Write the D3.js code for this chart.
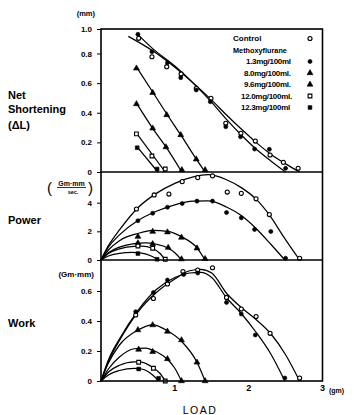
<!DOCTYPE html>
<html>
<head>
<meta charset="utf-8">
<script src="https://cdn.jsdelivr.net/npm/d3@7"></script>
<style>
  body { margin: 0; background: #fff; }
  svg { display: block; font-family: "Liberation Sans", Arial, sans-serif; font-weight: bold; }
</style>
</head>
<body>
<div id="chart"></div>
<script>
// series: control + methoxyflurane doses
const seriesNames = ["Control", "1.3mg/100ml", "8.0mg/100ml.", "9.6mg/100ml.", "12.0mg/100ml.", "12.3mg/100ml"];
const seriesSymbols = ["openCircle", "circle", "triangle", "triangle", "openSquare", "square"];

// Net shortening (mm) vs load (gm) - measured points
const shortPoints = [
  [[0.51,0.924],[0.69,0.778],[0.89,0.711],[1.085,0.662],[1.29,0.565],[1.49,0.498],[1.69,0.329],[1.895,0.261],[2.09,0.209],[2.29,0.115],[2.47,0.065],[2.67,0.025]],
  [[0.50,0.957],[0.69,0.815],[0.90,0.738],[1.08,0.637],[1.29,0.554],[1.48,0.475],[1.69,0.306],[1.89,0.238],[2.08,0.155],[2.28,0.153],[2.50,0.025]],
  [[0.48,0.70],[0.70,0.535],[0.89,0.385],[1.08,0.25],[1.29,0.086],[1.41,0.014]],
  [[0.48,0.459],[0.70,0.295],[0.88,0.168],[1.095,0.014]],
  [[0.48,0.257],[0.69,0.108],[0.87,0.02]],
  [[0.49,0.164],[0.76,0.02]]
];
// fitted lines
const shortFits = [
  [[0.37,0.94],[0.7,0.822],[1.0,0.707],[1.3,0.578],[1.5,0.485],[1.7,0.385],[1.9,0.29],[2.1,0.2],[2.3,0.12],[2.5,0.055],[2.69,0]],
  [[0.49,0.96],[0.7,0.84],[1.0,0.715],[1.3,0.575],[1.5,0.47],[1.7,0.355],[1.9,0.25],[2.1,0.155],[2.3,0.075],[2.5,0]],
  [[0.48,0.71],[0.7,0.54],[0.9,0.385],[1.1,0.235],[1.3,0.08],[1.41,0]],
  [[0.48,0.465],[0.7,0.295],[0.9,0.155],[1.095,0]],
  [[0.48,0.262],[0.87,0]],
  [[0.49,0.17],[0.77,0]]
];

// Power (Gm·mm/sec) vs load
const powerPoints = [
  [[0.48,3.56],[0.72,4.54],[0.92,4.6],[1.10,5.47],[1.31,5.75],[1.51,5.87],[1.71,4.74],[1.90,4.65],[2.10,4.27],[2.28,3.17],[2.69,0.12]],
  [[0.50,2.74],[0.70,3.26],[0.90,3.68],[1.10,3.94],[1.30,4.11],[1.51,4.11],[1.70,3.31],[1.90,2.94],[2.08,2.13],[2.30,1.99],[2.50,0.12]],
  [[0.50,1.63],[0.70,1.98],[0.90,1.94],[1.09,1.57],[1.30,0.82],[1.41,0.08]],
  [[0.50,1.18],[0.70,1.12],[0.91,0.86],[1.09,0.06]],
  [[0.50,0.98],[0.70,0.82],[0.87,0.05]],
  [[0.50,0.45],[0.76,0.05]]
];
const powerFits = [
  [[0,0],[0.1,1.0],[0.25,2.1],[0.5,3.65],[0.75,4.65],[1.0,5.35],[1.25,5.8],[1.45,5.95],[1.7,5.6],[1.9,5.05],[2.1,4.25],[2.28,3.15],[2.47,1.65],[2.69,0]],
  [[0,0],[0.1,0.9],[0.25,1.75],[0.5,2.75],[0.75,3.4],[1.0,3.85],[1.25,4.1],[1.45,4.12],[1.7,3.7],[1.9,3.1],[2.1,2.2],[2.3,1.1],[2.49,0]],
  [[0,0],[0.1,0.7],[0.25,1.35],[0.5,1.85],[0.7,2.06],[0.9,2.0],[1.1,1.6],[1.3,0.85],[1.41,0]],
  [[0,0],[0.1,0.5],[0.25,0.9],[0.45,1.15],[0.6,1.2],[0.75,1.1],[0.9,0.85],[1.0,0.5],[1.09,0]],
  [[0,0],[0.1,0.45],[0.25,0.78],[0.45,0.95],[0.55,0.96],[0.7,0.8],[0.8,0.45],[0.87,0]],
  [[0,0],[0.1,0.28],[0.25,0.46],[0.42,0.53],[0.55,0.48],[0.68,0.28],[0.78,0]]
];

// Work (Gm·mm) vs load
const workPoints = [
  [[0.47,0.44],[0.71,0.55],[0.90,0.647],[1.11,0.73],[1.31,0.74],[1.51,0.755],[1.70,0.557],[1.90,0.48],[2.10,0.43],[2.29,0.318],[2.69,0.02]],
  [[0.47,0.462],[0.71,0.59],[0.90,0.673],[1.12,0.71],[1.31,0.72],[1.70,0.524],[1.90,0.447],[2.09,0.307],[2.49,0.02]],
  [[0.50,0.34],[0.70,0.373],[0.90,0.33],[1.09,0.273],[1.30,0.124],[1.41,0.0]],
  [[0.51,0.21],[0.70,0.195],[0.90,0.147],[1.09,0.0]],
  [[0.51,0.125],[0.71,0.085],[0.87,0.0]],
  [[0.51,0.08],[0.78,0.018]]
];
const workFits = [
  [[0,0],[0.1,0.13],[0.25,0.27],[0.5,0.46],[0.75,0.59],[1.0,0.68],[1.2,0.735],[1.35,0.745],[1.5,0.72],[1.7,0.585],[1.9,0.49],[2.1,0.41],[2.3,0.315],[2.5,0.175],[2.69,0]],
  [[0,0],[0.1,0.14],[0.25,0.28],[0.5,0.47],[0.75,0.61],[1.0,0.69],[1.2,0.72],[1.35,0.725],[1.5,0.69],[1.7,0.555],[1.9,0.45],[2.1,0.325],[2.3,0.18],[2.49,0]],
  [[0,0],[0.1,0.12],[0.25,0.24],[0.5,0.34],[0.7,0.375],[0.9,0.335],[1.1,0.26],[1.3,0.125],[1.41,0]],
  [[0,0],[0.1,0.08],[0.25,0.16],[0.45,0.215],[0.6,0.22],[0.75,0.195],[0.9,0.145],[1.0,0.085],[1.09,0]],
  [[0,0],[0.1,0.06],[0.25,0.105],[0.45,0.128],[0.55,0.126],[0.7,0.09],[0.8,0.05],[0.87,0]],
  [[0,0],[0.1,0.04],[0.25,0.07],[0.45,0.085],[0.55,0.08],[0.7,0.04],[0.78,0]]
];

const xTicks = [1, 2, 3];
const shortTicks = [0, 0.2, 0.4, 0.6, 0.8, 1.0];
const powerTicks = [0, 2, 4];
const workTicks = [0, 0.2, 0.4, 0.6];

const W = 354, H = 415;
const svg = d3.select("#chart").append("svg")
  .attr("width", W)
  .attr("height", H);

const x = d3.scaleLinear().domain([0, 3]).range([101, 322.5]);
const yShort = d3.scaleLinear().domain([0, 0.8, 1.0]).range([172, 53.5, 29]);
const yPower = d3.scaleLinear().domain([0, 6.14]).range([260, 172]);
const yWork = d3.scaleLinear().domain([0, 0.8]).range([381, 261]);

const panels = [
  { y: yShort, pts: shortPoints, fits: shortFits, ticks: shortTicks, fmt: d => d === 0 ? "0" : d3.format(".1f")(d) },
  { y: yPower, pts: powerPoints, fits: powerFits, ticks: powerTicks, fmt: d3.format("d") },
  { y: yWork, pts: workPoints, fits: workFits, ticks: workTicks, fmt: d => d === 0 ? "0" : d3.format(".1f")(d) }
];

function drawSymbol(g, type, cx, cy) {
  const filled = !type.startsWith("open");
  const shape = type.includes("ircle") ? d3.symbolCircle : type.includes("quare") ? d3.symbolSquare : d3.symbolTriangle;
  const size = shape === d3.symbolTriangle ? 15 : shape === d3.symbolSquare ? 14 : 13;
  g.append("path")
    .attr("d", d3.symbol().type(shape).size(size)())
    .attr("transform", `translate(${cx},${cy})`)
    .attr("fill", filled ? "#000" : "#fff")
    .attr("stroke", "#000")
    .attr("stroke-width", filled ? 0.6 : 1.1);
}

panels.forEach(p => {
  // y axis ticks and labels
  const ax = svg.append("g")
    .attr("transform", `translate(${x(0)},0)`)
    .call(d3.axisLeft(p.y).tickValues(p.ticks).tickFormat(p.fmt).tickSize(4).tickPadding(5));
  ax.select(".domain").remove();
  ax.selectAll("line").attr("stroke", "#000").attr("stroke-width", 1);
  ax.selectAll("text").attr("font-size", 8).attr("font-weight", "bold").attr("fill", "#000")
    .attr("font-family", "'Liberation Sans', Arial, sans-serif");

  const line = d3.line()
    .x(d => x(d[0]))
    .y(d => p.y(d[1]))
    .curve(d3.curveMonotoneX);

  svg.append("g")
    .selectAll("path")
    .data(p.fits)
    .join("path")
    .attr("d", line)
    .attr("fill", "none")
    .attr("stroke", "#000")
    .attr("stroke-width", 1.25);

  const mg = svg.append("g");
  p.pts.forEach((series, i) => {
    series.forEach(d => drawSymbol(mg, seriesSymbols[i], x(d[0]), p.y(d[1])));
  });
});

// panel frame
svg.append("rect")
  .attr("x", x(0))
  .attr("y", 29)
  .attr("width", x(3) - x(0))
  .attr("height", 381 - 29)
  .attr("fill", "none")
  .attr("stroke", "#000")
  .attr("stroke-width", 1.6);
[172, 260].forEach(yy => {
  svg.append("line")
    .attr("x1", x(0)).attr("x2", x(3))
    .attr("y1", yy).attr("y2", yy)
    .attr("stroke", "#000")
    .attr("stroke-width", 1.6);
});

// x axis labels
svg.append("g")
  .selectAll("text")
  .data(xTicks)
  .join("text")
  .attr("x", d => x(d))
  .attr("y", 391)
  .attr("text-anchor", "middle")
  .attr("font-size", 9)
  .text(d => d);
svg.append("text").attr("x", 329).attr("y", 393).attr("font-size", 7).text("(gm)");
svg.append("text")
  .attr("x", 200)
  .attr("y", 414)
  .attr("text-anchor", "middle")
  .attr("font-size", 10.5)
  .attr("font-weight", "normal")
  .attr("letter-spacing", 1.5)
  .text("LOAD");

// unit labels
svg.append("text").attr("x", 95).attr("y", 16).attr("text-anchor", "end").attr("font-size", 7.5).text("(mm)");
svg.append("text").attr("x", 47).attr("y", 193).attr("font-size", 15).attr("font-weight", "normal").text("(");
svg.append("text").attr("x", 88).attr("y", 193).attr("font-size", 15).attr("font-weight", "normal").text(")");
svg.append("text").attr("x", 71.5).attr("y", 185.5).attr("text-anchor", "middle").attr("font-size", 7).text("Gm·mm");
svg.append("line").attr("x1", 57).attr("x2", 86).attr("y1", 187.5).attr("y2", 187.5).attr("stroke", "#000").attr("stroke-width", 0.8);
svg.append("text").attr("x", 73).attr("y", 194).attr("text-anchor", "middle").attr("font-size", 5.5).text("sec.");
svg.append("text").attr("x", 94).attr("y", 277).attr("text-anchor", "end").attr("font-size", 8).text("(Gm·mm)");

// row titles
const titles = [["Net", 99], ["Shortening", 113], ["(ΔL)", 129], ["Power", 224], ["Work", 327]];
svg.append("g")
  .selectAll("text")
  .data(titles)
  .join("text")
  .attr("x", 8)
  .attr("y", d => d[1])
  .attr("font-size", 11)
  .text(d => d[0]);

// legend
const lg = svg.append("g");
lg.append("text").attr("x", 233).attr("y", 41).attr("font-size", 8).text("Control");
lg.append("text").attr("x", 233).attr("y", 52.5).attr("font-size", 7.3).text("Methoxyflurane");
drawSymbol(lg, seriesSymbols[0], 310, 38.5);
const doseX = [246, 244, 244, 241, 241];
seriesNames.slice(1).forEach((name, i) => {
  const cy = 61.5 + i * 11.5;
  lg.append("text").attr("x", doseX[i]).attr("y", cy + 2.8).attr("font-size", 8).attr("letter-spacing", -0.3).text(name);
  drawSymbol(lg, seriesSymbols[i + 1], 310, cy);
});
</script>
</body>
</html>
